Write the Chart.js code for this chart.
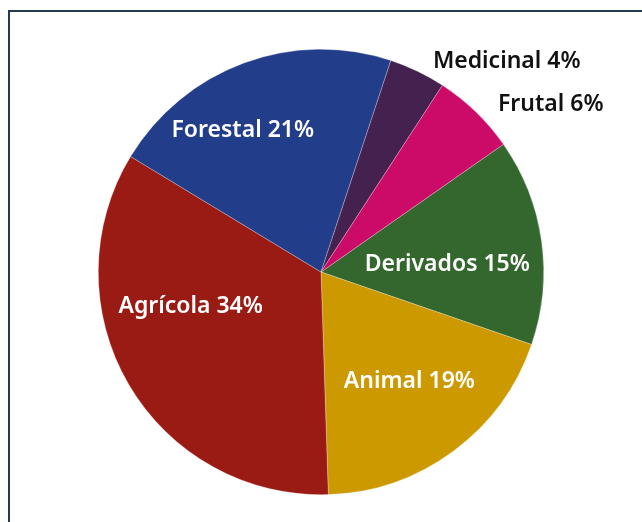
<!DOCTYPE html>
<html>
<head>
<meta charset="utf-8">
<script src="https://cdn.jsdelivr.net/npm/chart.js@4.4.1/dist/chart.umd.min.js"></script>
<style>
html,body{margin:0;padding:0;background:#fff;}
#wrap{position:relative;width:642px;height:522px;}
#frame{position:absolute;left:8px;top:10px;width:700px;height:600px;border:2px solid #243b55;box-sizing:border-box;}
canvas{position:absolute;left:0;top:0;}
</style>
</head>
<body>
<div id="wrap">
<div id="frame"></div>
<canvas id="c" width="642" height="522"></canvas>
</div>
<script>
const categories = ['Derivados', 'Animal', 'Agrícola', 'Forestal', 'Medicinal', 'Frutal'];
const values = [15.0, 19.2, 34.2, 21.4, 4.1, 6.1];
const colors = ['#33672e', '#cc9a00', '#9a1a14', '#223d89', '#45214f', '#cc0a68'];
const labelInside = [true, true, true, true, false, false];
const labelOffsets = [[-6, 11], [9, 2], [-15, -33], [-32, -16], [70, 30], [44, 25]];

const labelPlugin = {
  id: 'sliceLabels',
  afterDatasetsDraw(chart) {
    const ctx = chart.ctx;
    const meta = chart.getDatasetMeta(0);
    ctx.save();
    ctx.font = '600 23px "Noto Sans"';
    ctx.textAlign = 'center';
    ctx.textBaseline = 'middle';
    meta.data.forEach((arc, i) => {
      const p = arc.getProps(['x', 'y', 'startAngle', 'endAngle', 'outerRadius']);
      const mid = (p.startAngle + p.endAngle) / 2;
      const f = labelInside[i] ? 0.6 : 1.2;
      const x = p.x + Math.cos(mid) * p.outerRadius * f + labelOffsets[i][0];
      const y = p.y + Math.sin(mid) * p.outerRadius * f + labelOffsets[i][1];
      ctx.fillStyle = labelInside[i] ? '#ffffff' : '#111111';
      ctx.fillText(categories[i] + ' ' + Math.round(values[i]) + '%', x, y);
    });
    ctx.restore();
  }
};

new Chart(document.getElementById('c'), {
  type: 'pie',
  data: {
    labels: categories,
    datasets: [{
      data: values,
      backgroundColor: colors,
      borderColor: 'rgba(255,255,255,0.45)',
      borderWidth: 0.6
    }]
  },
  options: {
    responsive: false,
    animation: false,
    rotation: 55,
    layout: { padding: { top: 49, bottom: 27, left: 0, right: 0 } },
    plugins: { legend: { display: false }, tooltip: { enabled: false } }
  },
  plugins: [labelPlugin]
});
</script>
</body>
</html>
